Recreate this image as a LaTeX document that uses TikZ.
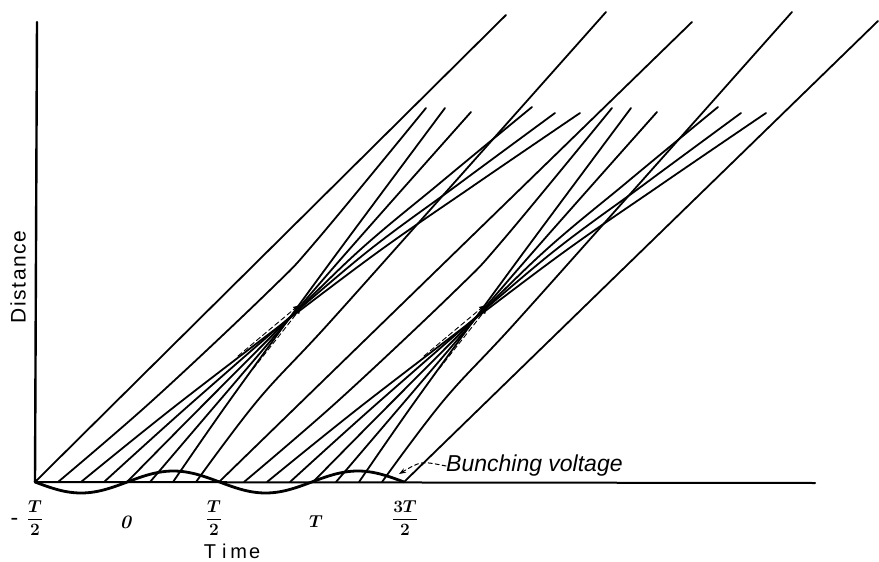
\documentclass[tikz,border=0pt]{standalone}
\usepackage{amsmath}
\usepackage{bm}
\usepackage{fontspec}
\newfontfamily\labfont{Liberation Sans}
\usetikzlibrary{arrows.meta}
\tikzset{
  traj/.style={line width=1.8pt},
  axisline/.style={line width=2.4pt},
  wave/.style={line width=2.8pt},
  focusdash/.style={line width=0.9pt, dash pattern=on 5pt off 3pt, -{Latex[length=6pt,width=5pt]}},
  ticklab/.style={font=\fontsize{19}{23}\selectfont, inner sep=0pt},
  axlabel/.style={font=\labfont\fontsize{20}{23}\selectfont, inner sep=0pt},
}
\newcommand{\bfr}[2]{$\displaystyle\frac{#1}{#2}$}
\begin{document}
\begin{tikzpicture}[x=1pt,y=-1pt,line cap=round,line join=round]
\useasboundingbox (0,0) rectangle (879,562);
% axes
\coordinate (o) at (35,482);
\coordinate (ytop) at (37,22);
\coordinate (xend) at (815,483);
\draw[axisline] (o) -- (ytop);
\draw[axisline, line width=2pt] (o) -- (xend);
% bunching voltage
\draw[wave] plot[domain=0:2, samples=140, variable=\s] ({35+184.5*\s},{482+11*sin(360*\s)});
% unperturbed trajectories
\coordinate (s0) at (35,482);   \coordinate (e0) at (506,15);
\coordinate (s8) at (219,482);  \coordinate (e8) at (692,22);
\coordinate (s16) at (404,482); \coordinate (e16) at (878,21);
\draw[traj] (s0) -- (e0);
\draw[traj] (s8) -- (e8);
\draw[traj] (s16) -- (e16);
% the two bunches (second one is one period later)
\foreach \o/\k in {0/a,186/b} {
  \begin{scope}[shift={(\o,0)}]
    % early electron, passes left of the bunch
    \draw[traj] plot[smooth, tension=0.6] coordinates {(58,482) (153,400) (270,290) (317,240) (426,108)};
    % electrons forming the bunch (they cross near the focus)
    \draw[traj] plot[smooth, tension=0.5] coordinates {(81,482) (183,400) (367,260) (473,186) (580,113)};
    \draw[traj] plot[smooth, tension=0.5] coordinates {(104,482) (195,400) (357,260) (456,186) (555,113)};
    \draw[traj] plot[smooth, tension=0.5] coordinates {(127,482) (208,400) (349,260) (440,183) (532,107)};
    \draw[traj] plot[smooth, tension=0.5] coordinates {(150,482) (220,400) (340,260) (471,112)};
    \draw[traj] plot[smooth, tension=0.5] coordinates {(173,482) (230,400) (332,260) (445,108)};
    % late electron, passes right of the bunch
    \draw[traj] plot[smooth, tension=0.6] coordinates {(196,482) (258,400) (330,322) (470,165) (606,12)};
    % dashed marks at the focus
    \coordinate (fa\k) at (238,356); \coordinate (fb\k) at (299,305);
    \coordinate (ga\k) at (253,369); \coordinate (gb\k) at (301,308);
    \draw[focusdash] (fa\k) -- (fb\k);
    \draw[focusdash] (ga\k) -- (gb\k);
  \end{scope}
}
% tick labels
\node[ticklab] (mn) at (15,521) {\textbf{-}};
\node[ticklab] (tm) at (35,518) {\bfr{\bm{T}}{\bm{2}}};
\node[ticklab] (t0) at (126,522) {\textbf{\textit{0}}};
\node[ticklab] (th) at (214,518) {\bfr{\bm{T}}{\bm{2}}};
\node[ticklab] (t1) at (316,522) {$\bm{T}$};
\node[ticklab] (t3) at (405,518) {\bfr{\bm{3T}}{\bm{2}}};
% axis labels
\node[axlabel] (time) at (232,551) {T\kern6pt i\kern4pt m\kern2pt e};
\node[axlabel, font=\labfont\fontsize{21}{24}\selectfont, rotate=90] (dist) at (18,277) {D\kern1.5pt i\kern1.5pt s\kern1.5pt t\kern1.5pt a\kern1.5pt n\kern1.5pt c\kern1.5pt e};
\node[axlabel, font=\labfont\itshape\fontsize{23}{26}\selectfont, anchor=west] (bv) at (446,466) {Bunching voltage};
\draw[line width=1pt, dash pattern=on 4pt off 3pt, -{Stealth[length=7pt,width=5pt]}] (bv.west) .. controls (421,461) .. (399,474);
\end{tikzpicture}
\end{document}
